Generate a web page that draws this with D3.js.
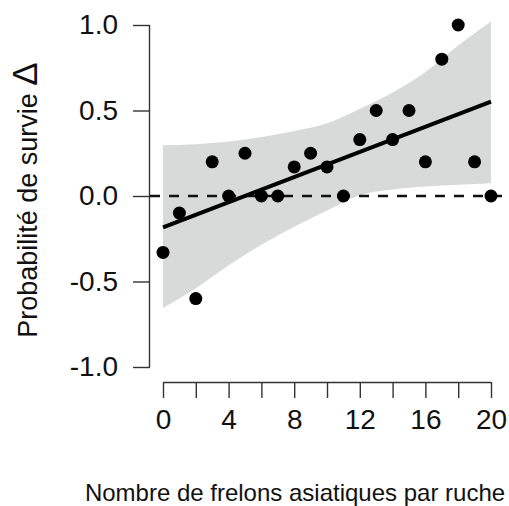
<!DOCTYPE html>
<html>
<head>
<meta charset="utf-8">
<script src="https://cdn.jsdelivr.net/npm/d3@7"></script>
<style>
  html, body { margin: 0; padding: 0; background: #fff; }
  svg { display: block; font-family: "Liberation Sans", Arial, sans-serif; }
</style>
</head>
<body>
<svg id="chart" width="509" height="506"></svg>
<script>
// ---- data ----
const hornets = [0,1,2,3,4,5,6,7,8,9,10,11,12,13,14,15,16,17,18,19,20];
const survivalDelta = [-0.33,-0.1,-0.6,0.2,0,0.25,0,0,0.17,0.25,0.17,0,0.33,0.5,0.33,0.5,0.2,0.8,1,0.2,0];
const bandX = [0,2,4,6,8,10,12,14,16,18,20];
const bandUpper = [0.297,0.303,0.318,0.345,0.38,0.425,0.51,0.605,0.725,0.88,1.02];
const bandLower = [-0.655,-0.54,-0.405,-0.285,-0.18,-0.085,0.005,0.038,0.055,0.066,0.075];
const xTicks = [0,2,4,6,8,10,12,14,16,18,20];
const xTickLabels = [0,4,8,12,16,20];
const yTicks = [-1.0,-0.5,0.0,0.5,1.0];
const xTitle = "Nombre de frelons asiatiques par ruche";
const yTitle = "Probabilité de survie ";
const yTitleSymbol = "Δ";

// ---- scales ----
const svg = d3.select("#chart");
const x = d3.scaleLinear().domain([0, 20]).range([163, 491]);
const y = d3.scaleLinear().domain([-1, 1]).range([367, 25]);
const axisX = 150, axisY = 382;

// linear fit from data (OLS)
const mx = d3.mean(hornets), my = d3.mean(survivalDelta);
const slope = d3.sum(hornets, (d, i) => (d - mx) * (survivalDelta[i] - my)) /
              d3.sum(hornets, d => (d - mx) * (d - mx));
const intercept = my - slope * mx;

// ---- confidence band ----
const band = bandX.map((d, i) => ({x: d, lo: bandLower[i], hi: bandUpper[i]}));
svg.append("path")
  .datum(band)
  .attr("fill", "#d8d9d9")
  .attr("d", d3.area().x(d => x(d.x)).y0(d => y(d.lo)).y1(d => y(d.hi)).curve(d3.curveMonotoneX));

// ---- zero reference line ----
svg.append("line")
  .attr("x1", axisX).attr("x2", 504)
  .attr("y1", y(0)).attr("y2", y(0))
  .attr("stroke", "#111").attr("stroke-width", 2.4)
  .attr("stroke-dasharray", "10,9");

// ---- fit line ----
svg.append("line")
  .attr("x1", x(0)).attr("x2", x(20))
  .attr("y1", y(intercept)).attr("y2", y(intercept + slope * 20))
  .attr("stroke", "#000").attr("stroke-width", 4);

// ---- points ----
svg.append("g").selectAll("circle")
  .data(hornets.map((d, i) => [d, survivalDelta[i]]))
  .join("circle")
  .attr("cx", d => x(d[0])).attr("cy", d => y(d[1]))
  .attr("r", 6.5).attr("fill", "#000");

// ---- y axis ----
const yAxis = d3.axisLeft(y).tickValues(yTicks).tickSize(17).tickPadding(15)
  .tickFormat(d3.format(".1f"));
const gy = svg.append("g").attr("transform", `translate(${axisX},0)`).call(yAxis);
gy.select(".domain").attr("d", `M-0.5,${y(1)}V${y(-1)}`).attr("stroke", "#333").attr("stroke-width", 1.4);
gy.selectAll(".tick line").attr("stroke", "#333").attr("stroke-width", 1.4);
gy.selectAll(".tick text").attr("font-size", 28).attr("fill", "#111")
  .attr("font-family", "Liberation Sans, Arial, sans-serif")
  .text(d => d3.format(".1f")(d).replace("−", "-"));

// ---- x axis ----
const xAxis = d3.axisBottom(x).tickValues(xTicks).tickSize(16).tickPadding(11)
  .tickFormat(d => xTickLabels.includes(d) ? d : "");
const gx = svg.append("g").attr("transform", `translate(0,${axisY})`).call(xAxis);
gx.select(".domain").attr("d", `M${x(0)},0.5H${x(20)}`).attr("stroke", "#333").attr("stroke-width", 1.4);
gx.selectAll(".tick line").attr("stroke", "#333").attr("stroke-width", 1.4);
gx.selectAll(".tick text").attr("font-size", 28).attr("fill", "#111")
  .attr("font-family", "Liberation Sans, Arial, sans-serif");

// ---- titles ----
svg.append("text")
  .attr("x", 295).attr("y", 501)
  .attr("text-anchor", "middle")
  .attr("font-size", 24).attr("fill", "#111")
  .text(xTitle);

const yt = svg.append("text")
  .attr("transform", "translate(37,200) rotate(-90)")
  .attr("text-anchor", "middle")
  .attr("font-size", 27).attr("fill", "#111");
yt.append("tspan").text(yTitle);
yt.append("tspan").attr("font-size", 35).text(yTitleSymbol);
</script>
</body>
</html>
